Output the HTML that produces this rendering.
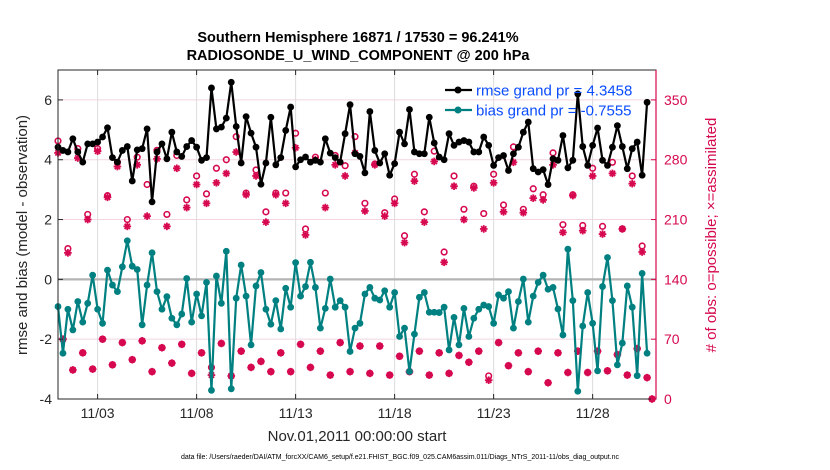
<!DOCTYPE html>
<html><head><meta charset="utf-8"><style>
html,body{margin:0;padding:0;background:#fff;}
svg{display:block;font-family:"Liberation Sans",sans-serif;}
</style></head><body>
<svg id="chart" width="830" height="470" viewBox="0 0 830 470" xmlns="http://www.w3.org/2000/svg">
<text x="358" y="42" text-anchor="middle" font-size="14.5" font-weight="bold" fill="#000">Southern Hemisphere 16871 / 17530 = 96.241%</text>
<text x="358" y="60" text-anchor="middle" font-size="14.5" font-weight="bold" fill="#000">RADIOSONDE_U_WIND_COMPONENT @ 200 hPa</text>
<g id="grid"></g>
<g id="marks"></g>
<g id="axes"></g>
<text transform="translate(27,235) rotate(-90)" text-anchor="middle" font-size="15" fill="#262626">rmse and bias (model - observation)</text>
<text transform="translate(716,235) rotate(-90)" text-anchor="middle" font-size="15" fill="#d6084f">#  of obs: o=possible; ×=assimilated</text>
<text x="357" y="441" text-anchor="middle" font-size="15" fill="#262626">Nov.01,2011 00:00:00 start</text>
<text x="400" y="459" text-anchor="middle" font-size="7" fill="#000">data file: /Users/raeder/DAI/ATM_forcXX/CAM6_setup/f.e21.FHIST_BGC.f09_025.CAM6assim.011/Diags_NTrS_2011-11/obs_diag_output.nc</text>
<g id="legend">
<line x1="445" y1="90" x2="472" y2="90" stroke="#000" stroke-width="2.2"/>
<circle cx="458" cy="90" r="3.5" fill="#000"/>
<text x="476" y="95.5" font-size="15" fill="#0a4cff">rmse grand pr = 4.3458</text>
<line x1="445" y1="110" x2="472" y2="110" stroke="#008080" stroke-width="2.2"/>
<circle cx="458" cy="110" r="3.5" fill="#008080"/>
<text x="476" y="115.5" font-size="15" fill="#0a4cff">bias grand pr = -0.7555</text>
</g>
</svg>
<script>
const rmse=[4.42,4.31,4.26,4.70,4.26,3.92,4.53,4.53,4.59,4.76,5.07,4.07,3.92,4.31,4.44,3.29,4.33,4.37,5.03,2.59,4.26,4.53,4.03,4.92,4.26,4.11,4.44,4.64,4.42,3.98,4.07,6.40,5.03,5.09,5.39,6.59,5.11,3.89,5.44,4.89,4.42,
3.18,3.89,5.42,3.83,4.07,4.98,5.76,3.76,4.00,4.09,3.92,3.98,3.92,4.70,4.22,4.07,3.92,4.87,5.84,4.20,4.11,3.56,5.61,4.31,3.89,4.20,3.48,3.87,4.92,4.53,5.68,4.26,4.20,4.20,5.42,4.56,4.09,4.00,4.87,4.48,
4.59,4.64,4.59,4.26,4.26,4.76,4.48,3.81,4.07,4.14,3.64,4.20,4.42,4.92,5.26,3.70,3.59,3.67,3.17,4.03,3.98,4.81,3.73,3.98,6.20,4.44,3.81,4.48,5.06,3.98,3.81,4.42,5.14,4.44,3.70,4.37,4.59,3.48,5.92];
const bias=[-0.91,-2.47,-1.00,-1.69,-0.74,-1.43,-0.80,0.14,-1.00,-1.47,0.31,-0.19,-0.41,0.42,1.29,0.44,0.33,-1.52,-0.19,0.89,-0.41,-1.00,-0.58,-1.30,-1.52,-1.16,0.03,-1.43,-0.49,-1.22,-0.10,-3.71,0.11,-0.80,0.94,-3.66,-0.63,0.48,-0.56,-2.19,-0.22,
0.23,-1.00,-1.50,-0.71,-1.66,-0.30,-0.93,0.56,-0.56,-0.24,0.57,-0.27,-1.63,-0.97,0.01,-0.93,-0.71,-0.93,-2.41,-1.63,-1.47,-0.49,-0.27,-0.63,-0.69,-0.38,-0.93,-0.44,-1.91,-1.63,-3.08,-1.83,-0.60,-0.44,-1.10,-1.10,-1.11,-0.93,-2.36,-1.27,
-2.19,-0.97,-1.91,-1.30,-1.00,-0.86,-0.91,-1.47,-0.52,-0.63,-0.41,-1.63,-0.74,0.01,-1.43,-0.56,-0.10,0.14,-0.33,-0.27,-0.99,-1.86,1.01,-0.71,-3.74,-1.56,-0.44,-1.47,-3.06,-0.24,0.73,-0.71,-2.86,-2.13,-0.22,-0.93,-3.22,0.20,-2.47];
const nPossible=[302,70,176,34,293,54,216,35,293,70,238,40,277,66,210,46,283,68,251,32,291,60,216,42,285,64,233,30,261,54,240,37,270,65,280,27,307,56,241,37,268,
44,219,32,241,54,241,32,311,64,199,37,283,56,241,28,285,66,273,32,307,62,229,30,275,62,218,28,234,50,191,32,263,56,219,28,290,54,172,30,261,
51,222,43,249,56,217,27,263,66,227,39,295,54,222,32,246,56,239,19,288,54,204,31,239,56,203,31,270,56,202,33,277,52,199,28,261,59,179,25,0];
const nAssim=[288,70,171,34,282,54,210,35,290,70,236,40,272,66,202,46,274,68,214,32,281,60,202,42,270,64,224,30,251,54,229,28,253,65,264,27,289,56,239,37,261,
44,207,32,239,54,229,32,294,64,192,37,280,56,224,28,274,66,261,32,288,62,220,30,274,62,214,28,229,50,183,32,255,56,207,28,278,54,160,30,249,
51,210,43,247,56,199,22,253,66,219,39,277,54,218,32,235,56,233,19,274,54,195,31,238,56,197,31,261,56,193,33,264,52,199,28,252,59,172,25,0];
const xTickDays=[2,7,12,17,22,27];
const xTickLabels=["11/03","11/08","11/13","11/18","11/23","11/28"];
const yTicksLeft=[6,4,2,0,-2,-4];
const yTicksRight=[0,70,140,210,280,350];

const NS="http://www.w3.org/2000/svg";
const X0=58,X1=656,Y0=70,Y1=399;
const dayMax=30.2;
const xDay=d=>X0+(d/dayMax)*(X1-X0);
const xIdx=i=>xDay(i*0.25);
const yL=v=>Y1-(v+4)/11*(Y1-Y0);
const yR=v=>Y1-v/385*(Y1-Y0);
function mk(tag,attrs,parent){const e=document.createElementNS(NS,tag);for(const k in attrs)e.setAttribute(k,attrs[k]);parent.appendChild(e);return e;}
const grid=document.getElementById('grid'),marks=document.getElementById('marks'),axes=document.getElementById('axes');
const MAG="#d6084f";
yTicksRight.forEach(v=>{if(v===0)return;const l=mk('line',{x1:X0,x2:X1,y1:yR(v),y2:yR(v),stroke:"#f2d5e0","stroke-width":1},grid);

});
xTickDays.forEach(d=>{const l=mk('line',{x1:xDay(d),x2:xDay(d),y1:Y0,y2:Y1,stroke:"#dcdcdc","stroke-width":1},grid);

});
const z=mk('line',{x1:X0,x2:X1,y1:yL(0),y2:yL(0),stroke:"#b4b4b4","stroke-width":2.2},grid);


function star(cx,cy,g){const s=3.8;[[0,1],[1,0],[0.7,0.7],[0.7,-0.7]].forEach(([a,b])=>{mk('line',{x1:cx-a*s,y1:cy-b*s,x2:cx+a*s,y2:cy+b*s,stroke:MAG,"stroke-width":1.8},g);});mk('circle',{cx:cx,cy:cy,r:1.4,fill:MAG},g);}
nPossible.forEach((v,i)=>{const c=mk('circle',{cx:xIdx(i),cy:yR(v),r:2.8,fill:"none",stroke:MAG,"stroke-width":1.6},marks);

});
nAssim.forEach((v,i)=>{const g=mk('g',{},marks);


star(xIdx(i),yR(v),g);});
function series(arr,color,name){const p=mk('polyline',{points:arr.map((v,i)=>xIdx(i)+","+yL(v)).join(" "),fill:"none",stroke:color,"stroke-width":2.2,"stroke-linejoin":"round"},marks);


arr.forEach((v,i)=>{const c=mk('circle',{cx:xIdx(i),cy:yL(v),r:3.4,fill:color},marks);

});}
series(bias,"#008080","bias");
series(rmse,"#000000","rmse");
const b=mk('rect',{x:X0,y:Y0,width:X1-X0,height:Y1-Y0,fill:"none",stroke:"#262626","stroke-width":1},axes);


const ra=mk('line',{x1:X1,x2:X1,y1:Y0,y2:Y1,stroke:MAG,"stroke-width":1.2},axes);


yTicksLeft.forEach(v=>{mk('line',{x1:X0,x2:X0+5,y1:yL(v),y2:yL(v),stroke:"#262626"},axes);
const t=mk('text',{x:X0-6,y:yL(v)+5,"text-anchor":"end","font-size":14,fill:"#262626"},axes);t.textContent=v;

});
yTicksRight.forEach(v=>{mk('line',{x1:X1-5,x2:X1,y1:yR(v),y2:yR(v),stroke:MAG},axes);
const t=mk('text',{x:X1+8,y:yR(v)+5,"font-size":14,fill:MAG},axes);t.textContent=v;

});
xTickDays.forEach((d,k)=>{mk('line',{x1:xDay(d),x2:xDay(d),y1:Y1,y2:Y1-5,stroke:"#262626"},axes);mk('line',{x1:xDay(d),x2:xDay(d),y1:Y0,y2:Y0+5,stroke:"#262626"},axes);
const t=mk('text',{x:xDay(d),y:418,"text-anchor":"middle","font-size":14,fill:"#262626"},axes);t.textContent=xTickLabels[k];

});
</script>
</body></html>
